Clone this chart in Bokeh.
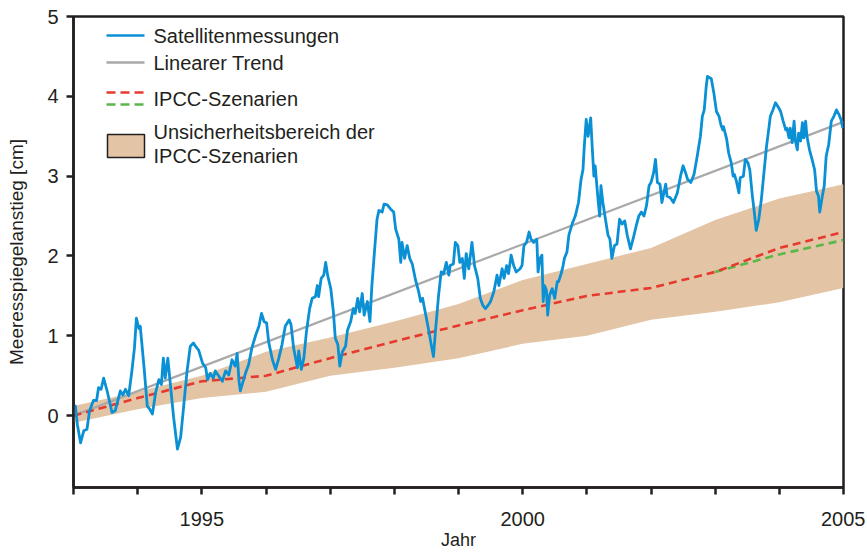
from bokeh.plotting import figure
from bokeh.models import Range1d, FixedTicker, Label, Arrow, BoxAnnotation
from bokeh.embed import file_html
from bokeh.resources import INLINE

# ---------------- data ----------------
sat_year = [1993.01, 1993.03, 1993.06, 1993.11, 1993.16, 1993.21, 1993.25, 1993.31, 1993.36, 1993.39,
            1993.43, 1993.47, 1993.53, 1993.60, 1993.65, 1993.73, 1993.77, 1993.81, 1993.86, 1993.91,
            1993.95, 1993.98, 1994.02, 1994.04, 1994.10, 1994.15, 1994.19, 1994.23, 1994.28, 1994.33,
            1994.37, 1994.40, 1994.43, 1994.47, 1994.51, 1994.56, 1994.62, 1994.67, 1994.72, 1994.77,
            1994.82, 1994.87, 1994.90, 1994.95, 1995.01, 1995.06, 1995.09, 1995.13, 1995.18, 1995.21,
            1995.26, 1995.32, 1995.37, 1995.42, 1995.47, 1995.52, 1995.55, 1995.58, 1995.60, 1995.68,
            1995.73, 1995.78, 1995.84, 1995.89, 1995.93, 1995.97, 1996.01, 1996.04, 1996.10, 1996.15,
            1996.20, 1996.25, 1996.30, 1996.36, 1996.39, 1996.43, 1996.49, 1996.51, 1996.55, 1996.59,
            1996.63, 1996.68, 1996.72, 1996.77, 1996.80, 1996.82, 1996.86, 1996.90, 1996.93, 1996.96,
            1997.01, 1997.05, 1997.08, 1997.12, 1997.15, 1997.19, 1997.24, 1997.27, 1997.32, 1997.36,
            1997.39, 1997.43, 1997.46, 1997.50, 1997.53, 1997.58, 1997.62, 1997.65, 1997.69, 1997.73,
            1997.76, 1997.81, 1997.84, 1997.89, 1997.94, 1997.99, 1998.02, 1998.07, 1998.10, 1998.12,
            1998.16, 1998.20, 1998.24, 1998.28, 1998.33, 1998.38, 1998.41, 1998.44, 1998.49, 1998.54,
            1998.57, 1998.61, 1998.64, 1998.69, 1998.73, 1998.77, 1998.81, 1998.85, 1998.87, 1998.92,
            1998.95, 1998.99, 1999.02, 1999.06, 1999.09, 1999.12, 1999.16, 1999.21, 1999.25, 1999.30,
            1999.34, 1999.38, 1999.42, 1999.46, 1999.50, 1999.55, 1999.60, 1999.63, 1999.68, 1999.71,
            1999.75, 1999.78, 1999.82, 1999.86, 1999.90, 1999.96, 1999.99, 2000.02, 2000.06, 2000.10,
            2000.13, 2000.17, 2000.22, 2000.24, 2000.27, 2000.30, 2000.32, 2000.34, 2000.37, 2000.39,
            2000.42, 2000.46, 2000.50, 2000.54, 2000.56, 2000.60, 2000.63, 2000.65, 2000.69, 2000.72,
            2000.77, 2000.82, 2000.87, 2000.91, 2000.94, 2000.96, 2000.99, 2001.02, 2001.06, 2001.08,
            2001.11, 2001.13, 2001.17, 2001.20, 2001.22, 2001.25, 2001.29, 2001.33, 2001.36, 2001.39,
            2001.43, 2001.47, 2001.51, 2001.55, 2001.59, 2001.63, 2001.68, 2001.72, 2001.77, 2001.81,
            2001.85, 2001.89, 2001.93, 2001.97, 2002.00, 2002.04, 2002.07, 2002.10, 2002.14, 2002.17,
            2002.20, 2002.23, 2002.25, 2002.30, 2002.35, 2002.41, 2002.46, 2002.50, 2002.54, 2002.57,
            2002.62, 2002.67, 2002.72, 2002.77, 2002.80, 2002.83, 2002.86, 2002.88, 2002.94, 2002.98,
            2003.02, 2003.06, 2003.09, 2003.12, 2003.13, 2003.18, 2003.21, 2003.25, 2003.28, 2003.30,
            2003.33, 2003.37, 2003.39, 2003.44, 2003.47, 2003.51, 2003.54, 2003.58, 2003.61, 2003.64,
            2003.68, 2003.72, 2003.76, 2003.80, 2003.84, 2003.86, 2003.90, 2003.94, 2003.98, 2004.02,
            2004.06, 2004.10, 2004.12, 2004.15, 2004.17, 2004.20, 2004.23, 2004.25, 2004.28, 2004.30,
            2004.33, 2004.36, 2004.38, 2004.41, 2004.43, 2004.47, 2004.51, 2004.55, 2004.58, 2004.61,
            2004.63, 2004.67, 2004.70, 2004.73, 2004.77, 2004.81, 2004.85, 2004.89, 2004.93, 2004.96,
            2004.99]
sat_cm = [0.10, 0.12, -0.11, -0.34, -0.19, -0.17, 0.06, 0.19, 0.19, 0.35,
          0.33, 0.47, 0.29, 0.04, 0.06, 0.31, 0.26, 0.33, 0.25, 0.56,
          0.85, 1.22, 1.09, 1.12, 0.60, 0.12, 0.08, 0.02, 0.29, 0.45,
          0.39, 0.72, 0.47, 0.72, 0.39, -0.02, -0.42, -0.27, 0.14, 0.56,
          0.87, 0.91, 0.87, 0.82, 0.66, 0.60, 0.45, 0.53, 0.47, 0.56,
          0.50, 0.43, 0.56, 0.51, 0.70, 0.62, 0.78, 0.43, 0.31, 0.53,
          0.64, 0.85, 1.01, 1.12, 1.28, 1.18, 1.16, 0.93, 0.70, 0.58,
          0.72, 0.89, 1.12, 1.20, 1.14, 0.85, 0.60, 0.81, 0.58, 0.72,
          1.05, 1.34, 1.47, 1.49, 1.63, 1.49, 1.72, 1.76, 1.92, 1.76,
          1.59, 1.30, 0.97, 0.89, 0.62, 0.80, 0.87, 1.07, 1.18, 1.34,
          1.28, 1.47, 1.30, 1.53, 1.26, 1.43, 1.18, 1.63, 2.05, 2.46,
          2.57, 2.55, 2.65, 2.64, 2.59, 2.55, 2.34, 2.21, 1.92, 2.17,
          1.97, 2.13, 1.97, 1.90, 1.70, 1.55, 1.43, 1.47, 1.26, 1.05,
          0.91, 0.74, 1.05, 1.51, 1.80, 1.78, 1.92, 1.76, 1.88, 1.90,
          2.17, 2.13, 1.92, 1.97, 1.72, 2.03, 1.84, 2.17, 1.88, 1.72,
          1.47, 1.38, 1.34, 1.38, 1.43, 1.55, 1.76, 1.63, 1.84, 1.72,
          1.88, 1.78, 2.01, 1.88, 1.80, 1.84, 1.88, 2.13, 2.17, 2.30,
          2.21, 2.17, 2.21, 1.80, 1.97, 2.01, 1.43, 1.63, 1.57, 1.26,
          1.51, 1.59, 1.47, 1.68, 1.68, 1.78, 1.88, 1.97, 2.05, 2.26,
          2.40, 2.50, 2.67, 2.96, 3.08, 3.37, 3.71, 3.50, 3.73, 3.42,
          3.00, 3.13, 2.75, 2.50, 2.88, 2.67, 2.46, 2.26, 2.21, 1.97,
          2.13, 2.15, 2.46, 2.40, 2.44, 2.26, 2.09, 2.21, 2.38, 2.50,
          2.55, 2.50, 2.63, 2.88, 2.92, 3.04, 3.21, 2.92, 2.90, 2.67,
          2.79, 2.90, 2.75, 2.73, 2.67, 2.79, 3.00, 3.13, 3.04, 2.96,
          2.92, 3.02, 3.25, 3.50, 3.75, 3.83, 4.12, 4.25, 4.22, 4.04,
          3.81, 3.75, 3.64, 3.58, 3.62, 3.46, 3.29, 3.17, 3.00, 3.02,
          2.94, 2.79, 2.98, 3.00, 3.21, 3.17, 3.08, 2.75, 2.55, 2.32,
          2.46, 2.71, 3.04, 3.37, 3.62, 3.75, 3.83, 3.92, 3.87, 3.81,
          3.69, 3.58, 3.60, 3.48, 3.60, 3.42, 3.69, 3.44, 3.33, 3.54,
          3.44, 3.67, 3.48, 3.69, 3.50, 3.33, 3.21, 3.08, 2.81, 2.75,
          2.55, 2.75, 2.88, 3.25, 3.40, 3.69, 3.75, 3.83, 3.77, 3.71,
          3.60]

trend_year = [1993, 2005]
trend_cm = [0.0, 3.68]

ipcc_year = [1993, 1994, 1995, 1996, 1997, 1998, 1999, 2000, 2001, 2002, 2003, 2004, 2005]
ipcc_red = [0.0, 0.22, 0.43, 0.50, 0.72, 0.93, 1.13, 1.32, 1.50, 1.60, 1.80, 2.10, 2.30]
ipcc_upper = [0.12, 0.30, 0.50, 0.80, 0.98, 1.18, 1.40, 1.70, 1.90, 2.10, 2.45, 2.72, 2.90]
ipcc_lower = [-0.09, 0.08, 0.22, 0.30, 0.50, 0.60, 0.72, 0.90, 1.00, 1.20, 1.30, 1.42, 1.60]

green_year = [2003, 2004, 2005]
ipcc_green = [1.80, 2.02, 2.20]

x_ticks = list(range(1993, 2006))
x_tick_labels = {1995: "1995", 2000: "2000", 2005: "2005"}
y_ticks = [0, 1, 2, 3, 4, 5]

# ---------------- styles ----------------
FONT = "Liberation Sans"
INK = "#231f20"
BLUE = "#0a90d4"
GRAY = "#a9a9a9"
RED = "#e63a2e"
GREEN = "#5bb749"
TAN = "#e3c4a5"

p = figure(width=865, height=552, output_backend="svg", toolbar_location=None,
           x_range=Range1d(1993, 2005), y_range=Range1d(-0.9, 5),
           min_border_left=73, min_border_right=22, min_border_top=16, min_border_bottom=62)

p.varea(x=ipcc_year, y1=ipcc_lower, y2=ipcc_upper, fill_color=TAN, fill_alpha=1.0)
p.line(trend_year, trend_cm, line_color=GRAY, line_width=2.2)
p.line(green_year, ipcc_green, line_color=GREEN, line_width=2.6, line_dash="8 5")
p.line(ipcc_year, ipcc_red, line_color=RED, line_width=2.6, line_dash="8 5")
p.line(sat_year, sat_cm, line_color=BLUE, line_width=2.8, line_join="round")

p.xgrid.visible = False
p.ygrid.visible = False
p.background_fill_color = "white"
p.border_fill_color = "white"
p.outline_line_color = INK
p.outline_line_width = 2.5
p.outline_line_alpha = 1.0

# axes
xa = p.xaxis[0]
xa.ticker = FixedTicker(ticks=x_ticks)
xa.major_label_overrides = {t: x_tick_labels.get(t, "") for t in x_ticks}
ya = p.yaxis[0]
ya.ticker = FixedTicker(ticks=y_ticks)
for ax in (xa, ya):
    ax.axis_line_color = INK
    ax.axis_line_width = 2.5
    ax.major_tick_line_color = INK
    ax.major_tick_line_width = 2.5
    ax.major_tick_in = 0
    ax.major_tick_out = 7
    ax.minor_tick_line_color = None
    ax.major_label_text_font = FONT
    ax.major_label_text_font_size = "20px"
    ax.major_label_text_color = INK
    ax.axis_label_text_font = FONT
    ax.axis_label_text_font_style = "normal"
    ax.axis_label_text_color = INK
xa.axis_label = "Jahr"
xa.axis_label_text_font_size = "18px"
xa.major_label_standoff = 17
xa.axis_label_standoff = 1
ya.axis_label = "Meeresspiegelanstieg [cm]"
ya.axis_label_text_font_size = "19px"
ya.major_label_standoff = 8
ya.axis_label_standoff = 17

# manual legend (screen units relative to the plot frame, y from bottom)
def leg_line(y, color, dash="solid"):
    p.add_layout(Arrow(end=None, x_start=33, y_start=y, x_end=71, y_end=y,
                       start_units="screen", end_units="screen",
                       line_color=color, line_width=2.6, line_dash=dash))

def leg_text(y, txt):
    p.add_layout(Label(x=80, y=y, x_units="screen", y_units="screen", text=txt,
                       text_font=FONT, text_font_size="20px", text_color=INK,
                       text_baseline="middle", text_align="left"))

leg_line(452, BLUE)
leg_text(452, "Satellitenmessungen")
leg_line(425, GRAY)
leg_text(425, "Linearer Trend")
leg_line(395, RED, "9 5")
leg_line(383, GREEN, "9 5")
leg_text(389, "IPCC-Szenarien")
p.add_layout(BoxAnnotation(left=34, right=71, bottom=330, top=353,
                           left_units="screen", right_units="screen",
                           bottom_units="screen", top_units="screen",
                           fill_color=TAN, fill_alpha=1.0,
                           line_color=INK, line_width=1.5, line_alpha=1.0))
leg_text(356, "Unsicherheitsbereich der")
leg_text(332, "IPCC-Szenarien")

open("out.html", "w").write(file_html(p, INLINE))
